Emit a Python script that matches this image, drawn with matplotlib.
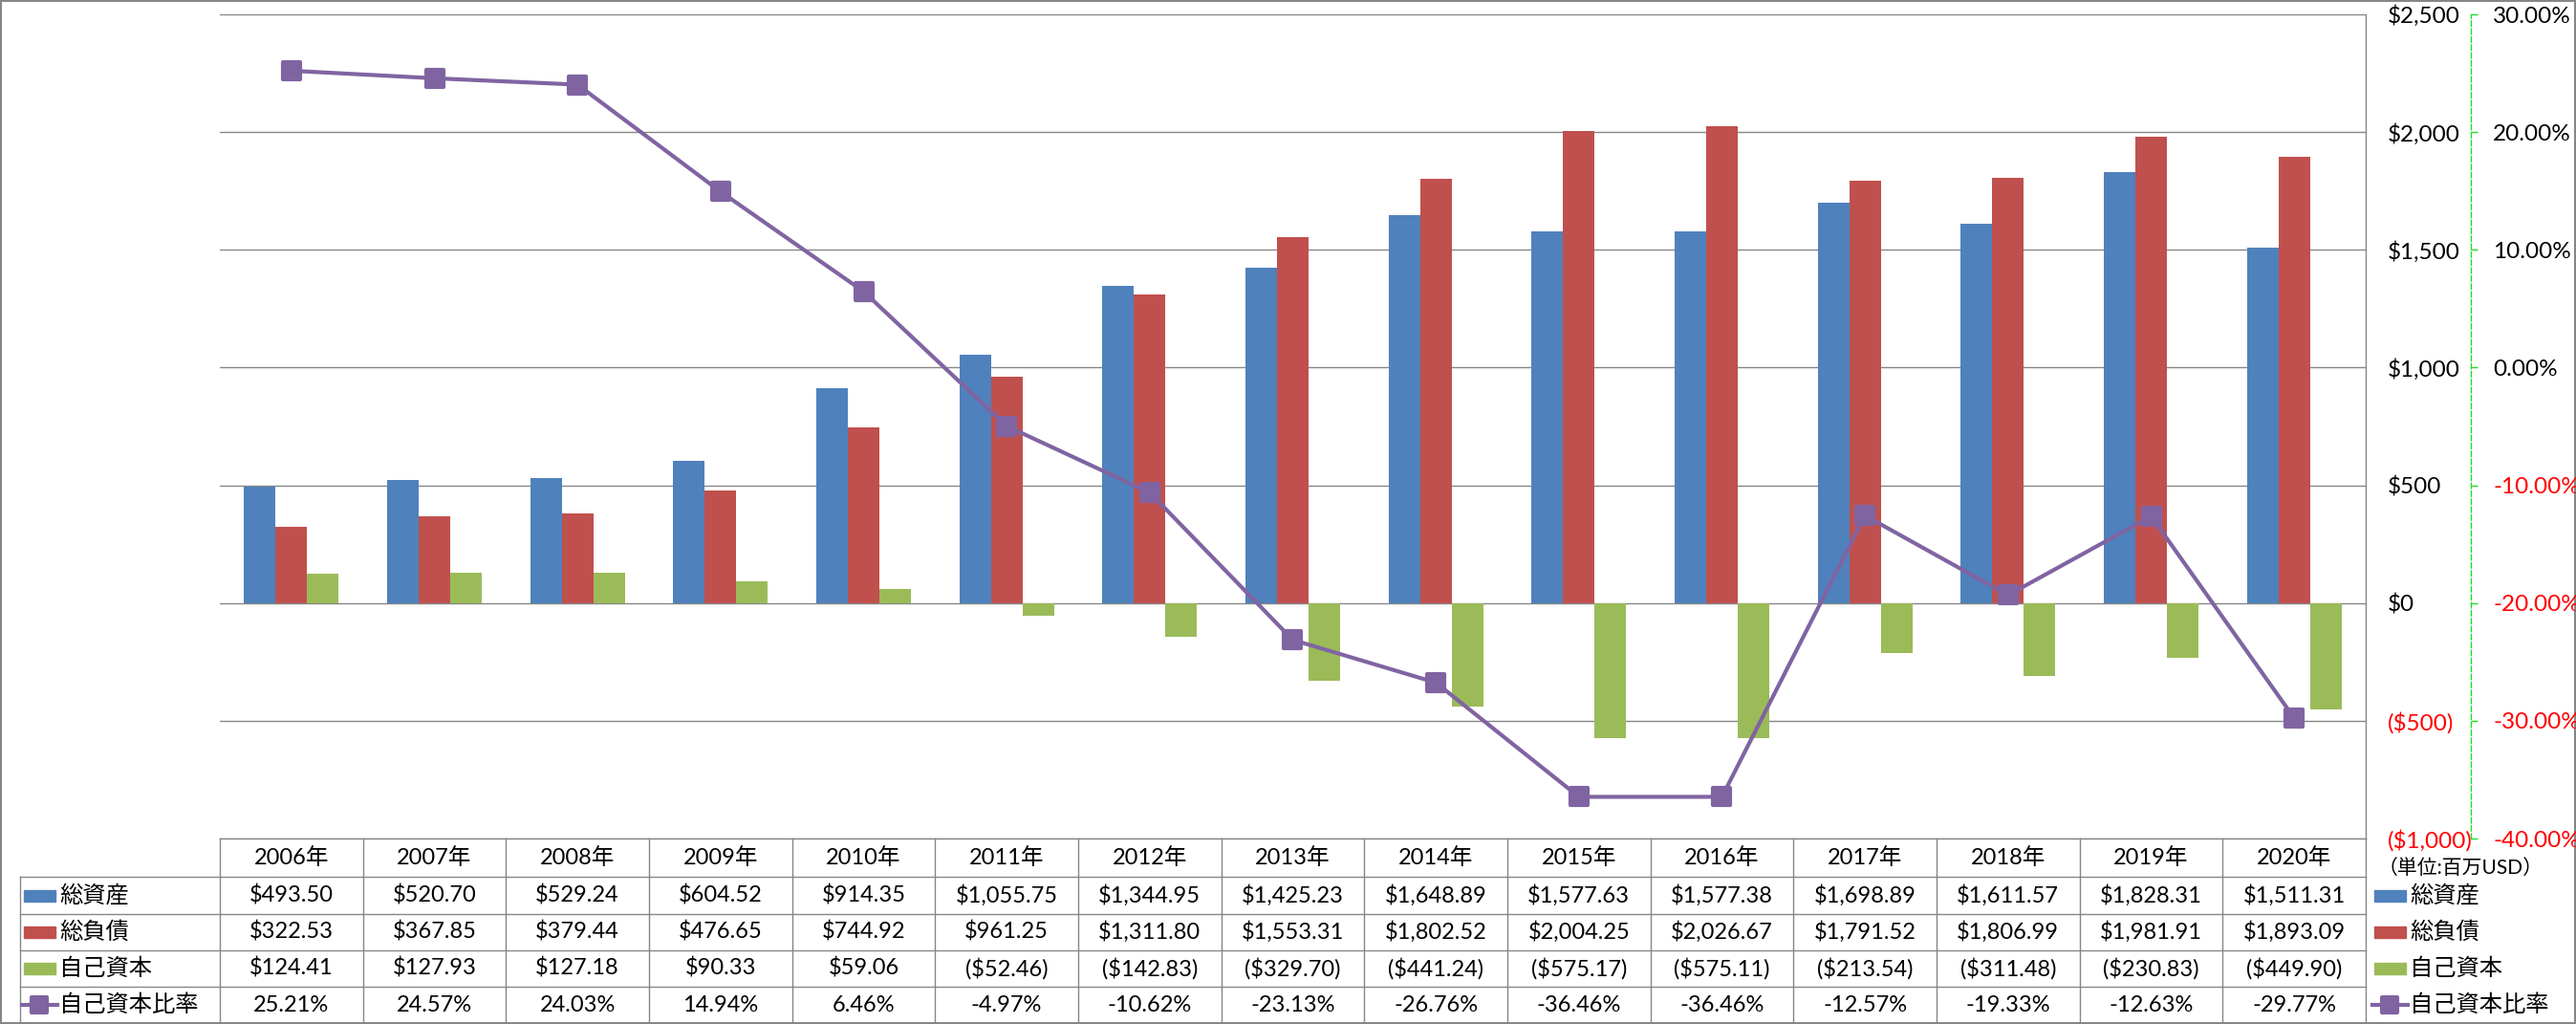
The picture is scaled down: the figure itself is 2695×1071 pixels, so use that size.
import matplotlib
matplotlib.use('Agg')
import matplotlib.pyplot as plt
from matplotlib.markers import MarkerStyle
from matplotlib.patches import Rectangle
from matplotlib.transforms import blended_transform_factory

plt.rcParams['font.family'] = ['Lato', 'Noto Sans CJK JP', 'DejaVu Sans']

years = ['2006年', '2007年', '2008年', '2009年', '2010年', '2011年', '2012年', '2013年',
         '2014年', '2015年', '2016年', '2017年', '2018年', '2019年', '2020年']
total_assets = [493.50, 520.70, 529.24, 604.52, 914.35, 1055.75, 1344.95, 1425.23,
                1648.89, 1577.63, 1577.38, 1698.89, 1611.57, 1828.31, 1511.31]
total_liab = [322.53, 367.85, 379.44, 476.65, 744.92, 961.25, 1311.80, 1553.31,
              1802.52, 2004.25, 2026.67, 1791.52, 1806.99, 1981.91, 1893.09]
equity = [124.41, 127.93, 127.18, 90.33, 59.06, -52.46, -142.83, -329.70,
          -441.24, -575.17, -575.11, -213.54, -311.48, -230.83, -449.90]
equity_ratio = [25.21, 24.57, 24.03, 14.94, 6.46, -4.97, -10.62, -23.13,
                -26.76, -36.46, -36.46, -12.57, -19.33, -12.63, -29.77]
series_names = ['総資産', '総負債', '自己資本', '自己資本比率']
usd_ticks = [-1000, -500, 0, 500, 1000, 1500, 2000, 2500]
pct_ticks = [-40, -30, -20, -10, 0, 10, 20, 30]

C_BLUE, C_RED, C_GREEN, C_PURPLE = '#4F81BD', '#C0504D', '#9BBB59', '#8064A2'
GRID = '#868686'
W, H = 2695, 1071
L, R, T, B = 230, 2475, 15, 877
rows_y = [877, 917, 956, 994, 1032, 1070]
PX = 72 / 100  # points per pixel


def usd(v):
    return f'${v:,.2f}' if v >= 0 else f'(${-v:,.2f})'


def usd_tick(v):
    return f'${v:,.0f}' if v >= 0 else f'(${-v:,.0f})'


def color_ticks(axis, ticks):
    for v, tk in zip(ticks, axis.get_major_ticks()):
        c = 'red' if v < 0 else 'black'
        tk.label1.set_color(c)
        tk.label2.set_color(c)


fig = plt.figure(figsize=(W / 100, H / 100), dpi=100)

# overlay in pixel coords for the data table and border
tb = fig.add_axes([0, 0, 1, 1])
tb.set_xlim(0, W)
tb.set_ylim(H, 0)
tb.axis('off')

ax = fig.add_axes([L / W, 1 - B / H, (R - L) / W, (B - T) / H])
ax.patch.set_alpha(0)
x = list(range(len(years)))
bw = 0.22
ax.bar([i - bw for i in x], total_assets, bw, color=C_BLUE, zorder=2)
ax.bar(x, total_liab, bw, color=C_RED, zorder=2)
ax.bar([i + bw for i in x], equity, bw, color=C_GREEN, zorder=2)
ax.set_xlim(-0.5, len(years) - 0.5)
ax.set_ylim(-1000, 2500)
ax.set_xticks([])
ax.set_yticks(usd_ticks, [usd_tick(v) for v in usd_ticks])
ax.grid(axis='y', color=GRID, lw=1.0, zorder=0)
for s in ['left', 'top', 'bottom']:
    ax.spines[s].set_visible(False)
ax.spines['right'].set_color(GRID)
ax.spines['right'].set_linewidth(1.0)

ax2 = ax.twinx()
mk = MarkerStyle('s', joinstyle='round')
ax2.plot(x, equity_ratio, color=C_PURPLE, lw=3, marker=mk, ms=13.5,
         mfc=C_PURPLE, mec=C_PURPLE, mew=3, zorder=3)
ax2.set_ylim(-40, 30)
ax2.set_yticks(pct_ticks, [f'{v:.2f}%' for v in pct_ticks])
ax2.tick_params(axis='y', length=7 * PX, width=1, color='#22DD22', pad=16 * PX,
                labelsize=17.5)
for s in ['left', 'top', 'bottom']:
    ax2.spines[s].set_visible(False)
ax2.spines['right'].set_position(('outward', 110 * PX))
ax2.spines['right'].set_color('#22DD22')
ax2.spines['right'].set_linestyle((0, (4, 2)))
ax2.spines['right'].set_linewidth(1.0)

# dollar labels sit on the right of the plot area (twinx moved them left)
ax.yaxis.tick_right()
ax.tick_params(axis='y', length=0, pad=23 * PX, labelsize=17.5)
color_ticks(ax.yaxis, usd_ticks)
color_ticks(ax2.yaxis, pct_ticks)

# data table
trans = blended_transform_factory(ax.transData, tb.transData)
lc = dict(color=GRID, lw=1.0)
for i in range(len(years) + 1):
    tb.plot([i - 0.5, i - 0.5], [rows_y[0], rows_y[-1]], transform=trans, **lc)
tb.plot([L, R], [rows_y[0]] * 2, **lc)
for yy in rows_y[1:-1]:
    tb.plot([21, R], [yy, yy], **lc)
tb.plot([21, 21], [rows_y[1], rows_y[-1]], **lc)

values = [[usd(v) for v in total_assets], [usd(v) for v in total_liab],
          [usd(v) for v in equity], [f'{v:.2f}%' for v in equity_ratio]]
for i, yl in enumerate(years):
    tb.text(i, (rows_y[0] + rows_y[1]) / 2, yl, transform=trans, ha='center',
            va='center', fontsize=17)
    for r in range(4):
        tb.text(i, (rows_y[r + 1] + rows_y[r + 2]) / 2, values[r][i], transform=trans,
                ha='center', va='center', fontsize=17)

colors = [C_BLUE, C_RED, C_GREEN]
for r, name in enumerate(series_names):
    yc = (rows_y[r + 1] + rows_y[r + 2]) / 2
    for x0 in (25, 2484):
        if r < 3:
            tb.add_patch(Rectangle((x0, yc - 6), 33, 12, color=colors[r]))
        else:
            tb.plot([x0 - 2, x0 + 35], [yc, yc], color=C_PURPLE, lw=3)
            tb.plot([x0 + 16], [yc], marker=mk, ms=12, color=C_PURPLE, mew=3)
    tb.text(62, yc, name, ha='left', va='center', fontsize=17.5)
    tb.text(2521, yc, name, ha='left', va='center', fontsize=17.5)

tb.text(2488, 908, '（単位:百万USD）', ha='left', va='center', fontsize=15)

tb.add_patch(Rectangle((1, 1), W - 2, H - 2, fill=False, ec=GRID, lw=1.5))

fig.savefig('out.png', dpi=100)
